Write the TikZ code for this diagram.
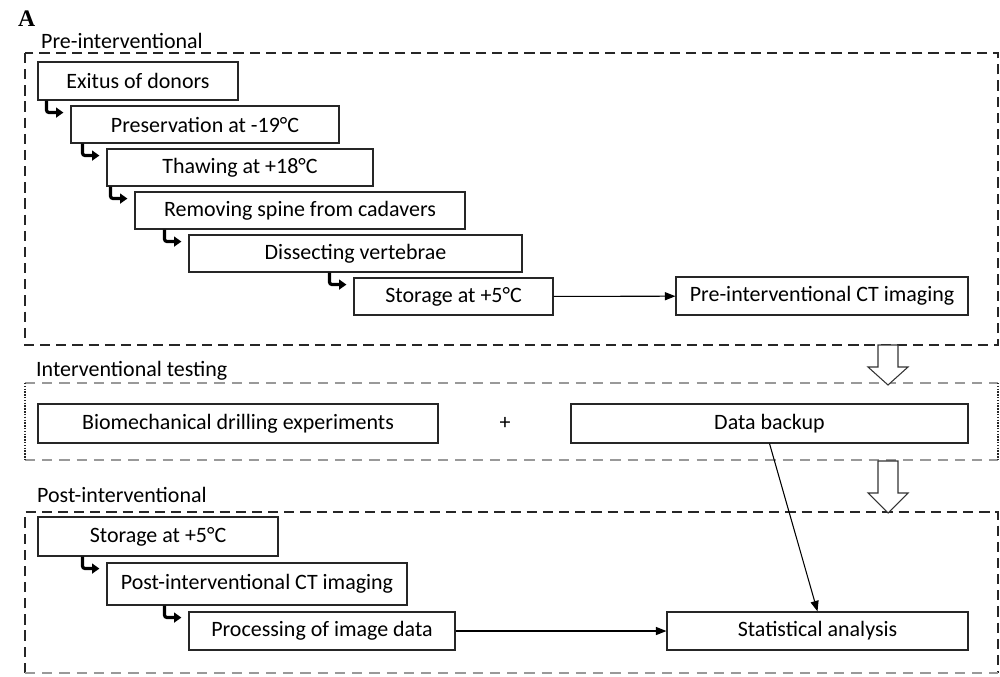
\documentclass[tikz,border=0pt]{standalone}
\usepackage{fontspec}
\setmainfont{Carlito}
\newfontfamily\panelfont{Liberation Serif}
\usetikzlibrary{calc,arrows.meta}
\def\flowbox(#1)(#2,#3)(#4,#5)#6{\node[flowbox, minimum width={(#4-#2)*0.02cm}, minimum height={(#5-#3)*0.02cm}] (#1) at ({(#2+#4)/2},{(#3+#5)/2}) {#6};}
\def\stepelbow(#1)(#2){\draw[elbow] ($(#1.south -| #2.west)+(-24,0)$) -- ++(0,12) -- ($(#1.south -| #2.west)+(-7,12)$);}
\def\blockarrow(#1,#2,#3,#4){\draw[blockarr] ({#1-10},#2) -- ({#1-10},#3) -- ({#1-20},#3) -- (#1,#4) -- ({#1+20},#3) -- ({#1+10},#3) -- ({#1+10},#2) -- cycle;}
\tikzset{
	flowbox/.style={draw=black!85, line width=0.65pt, inner sep=2pt, font=\fontsize{12.5}{15}\selectfont},
	elbow/.style={line width=1.8pt, rounded corners=1.5pt, -{Triangle[length=4.2pt,width=5.6pt]}},
	flow/.style={line width=0.6pt, -{Triangle[length=6pt,width=4.6pt]}},
	phase/.style={anchor=base west, font=\fontsize{12.5}{15}\selectfont},
	darkframe/.style={black!85, line width=1pt, dash pattern=on 5.8pt off 3.4pt},
	greyframe/.style={black!40, line width=0.8pt, dash pattern=on 5.8pt off 4pt},
	dotframe/.style={black!85, line width=1pt, dash pattern=on 0.8pt off 0.8pt},
	blockarr/.style={draw=black!80, line width=0.6pt, fill=white},
}
\begin{document}
\begin{tikzpicture}[x=0.02cm, y=-0.02cm]
			%%%%% START %%%%%
			\useasboundingbox (0,0) rectangle (1000,676);
			
			\node[anchor=base west, font=\panelfont\bfseries\fontsize{13.5}{16}\selectfont] (panel) at (12,27) {A};
			
			% frames
			\draw[darkframe] (25,53) rectangle (998,345);
			\draw[greyframe] (25,383) -- (998,383);
			\draw[greyframe] (25,460) -- (998,460);
			\draw[dotframe] (25,383) -- (25,460);
			\draw[dotframe] (998,383) -- (998,460);
			\draw[darkframe] (25,673) -- (25,512) -- (998,512) -- (998,673);
			\draw[greyframe] (25,673) -- (998,673);
			
			\node[phase] (pre) at (35,48) {Pre-interventional};
			\node[phase] (inter) at (30,376) {Interventional testing};
			\node[phase] (post) at (31,502) {Post-interventional};
			
			% pre-interventional
			\flowbox(exitus)(38,62)(238,100){Exitus of donors}
			\flowbox(preserve)(71,106)(339,143){Preservation at -19°C}
			\flowbox(thaw)(107,149)(373,186){Thawing at +18°C}
			\flowbox(spine)(135,192)(465,229){Removing spine from cadavers}
			\flowbox(dissect)(189,235)(522,272){Dissecting vertebrae}
			\flowbox(store)(354,278)(553,315){Storage at +5°C}
			\flowbox(prect)(676,277)(968,315){Pre-interventional CT imaging}
			
			\stepelbow(exitus)(preserve)
			\stepelbow(preserve)(thaw)
			\stepelbow(thaw)(spine)
			\stepelbow(spine)(dissect)
			\stepelbow(dissect)(store)
			\draw[flow] (store) -- (prect);
			
			% interventional
			\flowbox(drill)(38,404)(438,443){Biomechanical drilling experiments}
			\node[font=\fontsize{12.5}{15}\selectfont] (plus) at (505,423) {+};
			\flowbox(backup)(571,404)(968,443){Data backup}
			
			% post-interventional
			\flowbox(poststore)(38,517)(278,556){Storage at +5°C}
			\flowbox(postct)(107,563)(407,605){Post-interventional CT imaging}
			\flowbox(process)(189,612)(455,650){Processing of image data}
			\flowbox(stats)(667,612)(968,650){Statistical analysis}
			
			\stepelbow(poststore)(postct)
			\stepelbow(postct)(process)
			\draw[flow] (process) -- (stats);
			\draw[flow] (backup.south) -- (stats.north);
			
			\blockarrow(888,345,367,385)
			\blockarrow(888,461,493,513)
			%%%%% END %%%%%
\end{tikzpicture}
\end{document}
